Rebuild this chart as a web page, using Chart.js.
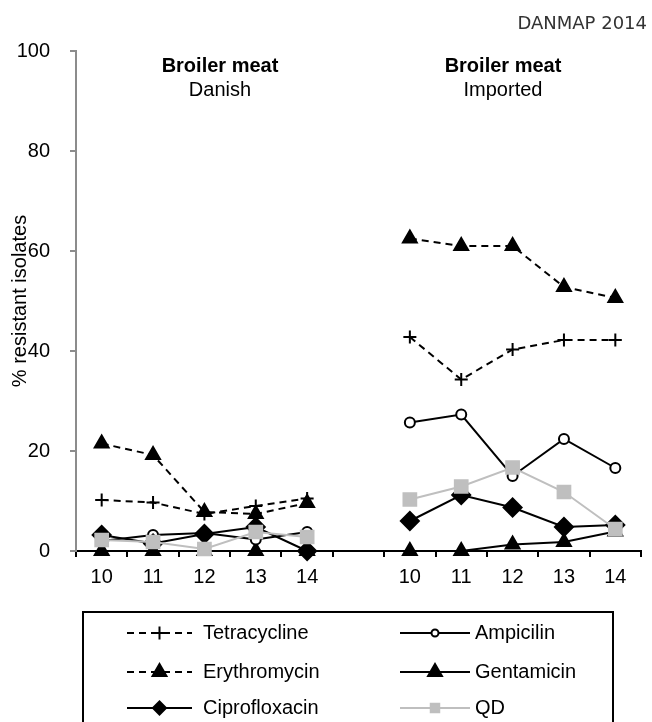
<!DOCTYPE html>
<html>
<head>
<meta charset="utf-8">
<script src="https://cdn.jsdelivr.net/npm/chart.js@4/dist/chart.umd.min.js"></script>
<style>
  html, body { margin: 0; padding: 0; background: #fff; }
  #wrap { position: relative; width: 652px; height: 722px; overflow: hidden; }
  #grafico { position: absolute; left: 0; top: 0; }
  .titulo { position: absolute; width: 200px; text-align: center; font-family: "Liberation Sans", Arial, sans-serif; font-size: 20px; line-height: 24px; color: #000; }
  #fonte { position: absolute; right: 5px; top: 11px; font-family: "DejaVu Sans", sans-serif; font-size: 18px; line-height: 24px; color: #333; }
</style>
</head>
<body>
<div id="wrap">
  <canvas id="grafico" width="652" height="722"></canvas>
  <div class="titulo" style="left:120px; top:53px;"><b>Broiler meat</b><br>Danish</div>
  <div class="titulo" style="left:403px; top:53px;"><b>Broiler meat</b><br>Imported</div>
  <div id="fonte">DANMAP 2014</div>
</div>
<script>
// anos (2010-2014), dinamarquês e importado separados por uma categoria vazia
const anos = ['10', '11', '12', '13', '14'];
const categorias = [...anos, '', ...anos];

const tetraciclinaDK = [10.2, 9.7, 7.4, 9.0, 10.5];
const tetraciclinaImp = [42.8, 34.3, 40.3, 42.2, 42.2];
const eritromicinaDK = [21.5, 19.2, 7.8, 7.4, 9.6];
const eritromicinaImp = [62.5, 61.0, 61.0, 52.8, 50.6];
const ampicilinaDK = [2.0, 3.2, 3.6, 2.3, 3.8];
const ampicilinaImp = [25.7, 27.3, 15.0, 22.4, 16.6];
const gentamicinaDK = [0, 0, 0, 0, 0];
const gentamicinaImp = [0, 0, 1.3, 1.8, 3.9];
const ciprofloxacinaDK = [3.2, 1.5, 3.4, 4.8, 0];
const ciprofloxacinaImp = [6.0, 11.2, 8.7, 4.8, 5.2];
const qdDK = [2.2, 1.8, 0.4, 3.8, 2.8];
const qdImp = [10.3, 12.9, 16.7, 11.8, 4.4];

const yTicks = [0, 20, 40, 60, 80, 100];

function juntar(dk, imp) {
    return [...dk, null, ...imp];
}

const FONTE = '"Liberation Sans", Arial, sans-serif';

function serie(nome, dk, imp, cor, tracejado, estilo, raio, preenchimento, ordem) {
    return {
        label: nome,
        data: juntar(dk, imp),
        borderColor: cor,
        borderWidth: 2,
        borderDash: tracejado ? [7, 5] : [],
        pointStyle: estilo,
        pointRadius: raio,
        pointHoverRadius: raio,
        pointBorderWidth: 2,
        pointBorderColor: cor,
        pointBackgroundColor: preenchimento,
        spanGaps: false,
        tension: 0,
        clip: false,
        order: ordem
    };
}

// legenda desenhada à mão (linha + marcador + texto), caixa com borda
const legendaPlugin = {
    id: 'legenda',
    afterDraw(chart) {
        const ctx = chart.ctx;
        ctx.save();
        ctx.lineWidth = 2;
        ctx.strokeStyle = '#000';
        ctx.setLineDash([]);
        ctx.strokeRect(83, 612, 530, 140);

        const colunas = [{ x0: 127, x1: 192, tx: 203 }, { x0: 400, x1: 470, tx: 475 }];
        const linhas = [633, 672, 708];

        chart.data.datasets.forEach((ds, i) => {
            const col = colunas[i % 2];
            const y = linhas[Math.floor(i / 2)];
            ctx.strokeStyle = ds.borderColor;
            ctx.lineWidth = 2;
            ctx.setLineDash(ds.borderDash);
            ctx.beginPath();
            ctx.moveTo(col.x0, y);
            ctx.lineTo(col.x1, y);
            ctx.stroke();
            ctx.setLineDash([]);

            const cx = (col.x0 + col.x1) / 2;
            let r = ds.pointRadius;
            if (ds.pointStyle === 'circle') r = 3.5;
            if (ds.pointStyle === 'rect') r = 6;
            if (ds.pointStyle === 'rectRot') r = 6.5;
            // drawPoint usa o fillStyle/strokeStyle atuais
            ctx.fillStyle = ds.pointBackgroundColor;
            ctx.strokeStyle = ds.pointBorderColor;
            ctx.lineWidth = 2;
            Chart.helpers.drawPoint(ctx, {
                pointStyle: ds.pointStyle, radius: r, rotation: 0, borderWidth: 2
            }, cx, y);

            ctx.fillStyle = '#000';
            ctx.font = '20px ' + FONTE;
            ctx.textBaseline = 'middle';
            ctx.textAlign = 'left';
            ctx.fillText(ds.label, col.tx, y);
        });
        ctx.restore();
    }
};

const ctx = document.getElementById('grafico').getContext('2d');

new Chart(ctx, {
    type: 'line',
    data: {
        labels: categorias,
        datasets: [
            serie('Tetracycline', tetraciclinaDK, tetraciclinaImp, '#000', true, 'cross', 6.5, '#000', 5),
            serie('Ampicilin', ampicilinaDK, ampicilinaImp, '#000', false, 'circle', 5, '#fff', 2),
            serie('Erythromycin', eritromicinaDK, eritromicinaImp, '#000', true, 'triangle', 8, '#000', 4),
            serie('Gentamicin', gentamicinaDK, gentamicinaImp, '#000', false, 'triangle', 8, '#000', 3),
            serie('Ciprofloxacin', ciprofloxacinaDK, ciprofloxacinaImp, '#000', false, 'rectRot', 9, '#000', 1),
            serie('QD', qdDK, qdImp, '#bfbfbf', false, 'rect', 9, '#bfbfbf', 0)
        ]
    },
    options: {
        responsive: false,
        animation: false,
        devicePixelRatio: 1,
        layout: { padding: { left: 0, top: 51, right: 10, bottom: 0 } },
        plugins: {
            legend: { display: false },
            tooltip: { enabled: false }
        },
        scales: {
            x: {
                offset: true,
                grid: {
                    display: true,
                    drawOnChartArea: false,
                    drawTicks: true,
                    tickLength: 6,
                    color: '#000',
                    lineWidth: 2,
                    offset: true
                },
                border: { display: true, color: '#000', width: 2 },
                ticks: {
                    color: '#000',
                    font: { family: FONTE, size: 20 },
                    padding: 8,
                    maxRotation: 0,
                    autoSkip: false
                },
                afterFit: (s) => { s.height = 171; }
            },
            y: {
                min: 0,
                max: 100,
                afterBuildTicks: (s) => { s.ticks = yTicks.map(v => ({ value: v })); },
                grid: {
                    display: true,
                    drawOnChartArea: false,
                    drawTicks: true,
                    tickLength: 6,
                    color: '#8c8c8c',
                    lineWidth: 2
                },
                border: { display: true, color: '#8c8c8c', width: 2 },
                ticks: {
                    color: '#000',
                    font: { family: FONTE, size: 20 },
                    padding: 20
                },
                title: {
                    display: true,
                    text: '% resistant isolates',
                    color: '#000',
                    font: { family: FONTE, size: 20 },
                    padding: { top: 8, bottom: 0 }
                },
                afterFit: (s) => { s.width = 76; }
            }
        }
    },
    plugins: [legendaPlugin]
});
</script>
</body>
</html>
